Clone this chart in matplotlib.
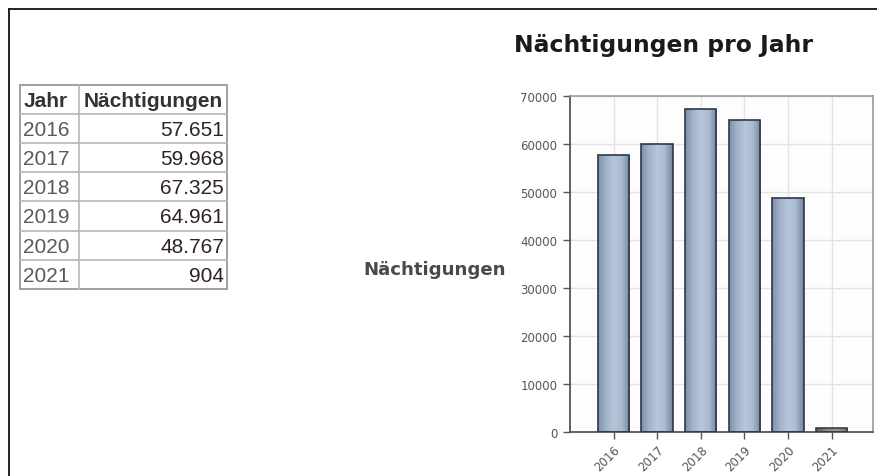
import numpy as np
import matplotlib
matplotlib.use("Agg")
import matplotlib.pyplot as plt
from matplotlib.colors import LinearSegmentedColormap
from matplotlib.patches import Rectangle

# data
years = ["2016", "2017", "2018", "2019", "2020", "2021"]
naechtigungen = [57651, 59968, 67325, 64961, 48767, 904]
yticks = [0, 10000, 20000, 30000, 40000, 50000, 60000, 70000]

W, H = 878, 477
fig = plt.figure(figsize=(W / 100, H / 100), dpi=100)
fig.patch.set_facecolor("white")

# overlay in pixel coords for frame + table
ov = fig.add_axes([0, 0, 1, 1])
ov.set_xlim(0, W)
ov.set_ylim(H, 0)
ov.axis("off")
ov.patch.set_alpha(0)

# page frame (top + left)
ov.plot([9, W], [10, 10], color="#111111", lw=1.3)
ov.plot([9, 9], [10, H], color="#111111", lw=1.3)

# table
tx0, tx1, tcol = 20, 227, 79
ty0, rowh = 86, 29.1
nrows = len(years) + 1
ty1 = ty0 + rowh * nrows
for i in range(1, nrows):
    yy = ty0 + rowh * i
    ov.plot([tx0, tx1], [yy, yy], color="#b5b5b5", lw=1.2)
ov.plot([tcol, tcol], [ty0, ty1], color="#b5b5b5", lw=1.2)
ov.add_patch(Rectangle((tx0, ty0), tx1 - tx0, ty1 - ty0, fill=False,
                       ec="#a0a0a0", lw=1.4))
tfont = dict(family="Liberation Sans", fontsize=15)
ov.text(24, ty0 + rowh / 2 + 1, "Jahr", ha="left", va="center",
        color="#333333", fontweight="bold", **tfont)
ov.text(tx1 - 4, ty0 + rowh / 2 + 1, "Nächtigungen", ha="right", va="center",
        color="#333333", fontweight="bold", **tfont)
for i, (yr, v) in enumerate(zip(years, naechtigungen)):
    yy = ty0 + rowh * (i + 1.5) + 1
    ov.text(23, yy, yr, ha="left", va="center", color="#5a5a5a", **tfont)
    ov.text(tx1 - 3, yy, f"{v:,}".replace(",", "."), ha="right", va="center",
            color="#2e2226", **tfont)

# title and y label
ov.text(664, 52, "Nächtigungen pro Jahr", ha="center", va="baseline",
        family="DejaVu Sans", fontweight="bold", fontsize=16.9, color="#1a1a1a")
ov.text(363, 275, "Nächtigungen", ha="left", va="baseline",
        family="DejaVu Sans", fontweight="bold", fontsize=13.1, color="#4a4a4a")

# chart
ax = fig.add_axes([570 / W, 1 - 433 / H, (873 - 570) / W, (433 - 97) / H])
ax.set_facecolor("#fdfdfd")
x = np.arange(len(years))
bw = 0.72

blue = LinearSegmentedColormap.from_list(
    "bar", ["#7f90a8", "#a2b3ca", "#b7c6da", "#aabbd1", "#74859d"])
grey = LinearSegmentedColormap.from_list(
    "bar21", ["#5e5e5e", "#8a8a8a", "#9a9a9a", "#707070"])
grad = np.linspace(0, 1, 64).reshape(1, -1)

bars = ax.bar(x, naechtigungen, width=bw, facecolor="none",
              edgecolor="#2c384a", linewidth=1.2, zorder=3)
for i, b in enumerate(bars):
    cm = grey if years[i] == "2021" else blue
    if years[i] == "2021":
        b.set_edgecolor("#3c3c3c")
    im = ax.imshow(grad, cmap=cm, aspect="auto", zorder=2,
                   extent=[b.get_x(), b.get_x() + b.get_width(), 0, b.get_height()])
    im.set_clip_path(b)

ax.set_xlim(-1.0, 5.95)
ax.set_ylim(0, 70000)
ax.set_xticks(x)
ax.set_xticklabels(years, rotation=45, ha="right", rotation_mode="anchor")
ax.set_yticks(yticks)
ax.set_yticklabels([str(t) for t in yticks])
ax.grid(True, color="#e3e3e3", lw=1.0, zorder=0)
ax.set_axisbelow(True)

ax.tick_params(axis="both", direction="out", length=5, width=1.0,
               color="#555555", labelcolor="#555555", labelsize=8.5)
ax.tick_params(axis="y", pad=4)
ax.tick_params(axis="x", pad=3)
for s in ["left", "bottom"]:
    ax.spines[s].set_color("#555555")
    ax.spines[s].set_linewidth(1.3)
for s in ["top", "right"]:
    ax.spines[s].set_color("#999999")
    ax.spines[s].set_linewidth(1.2)

fig.savefig("out.png", dpi=100)
